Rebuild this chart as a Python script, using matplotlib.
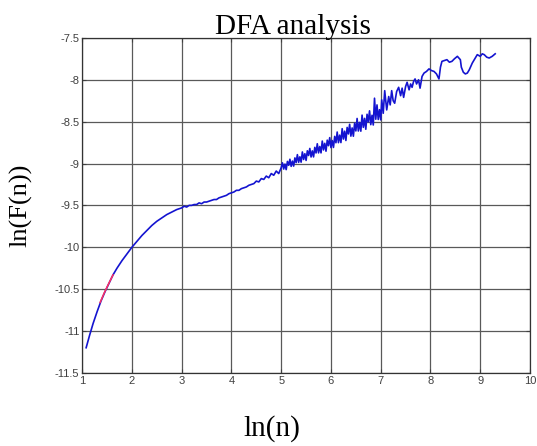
import numpy as np
import matplotlib
matplotlib.use('Agg')
import matplotlib.pyplot as plt

# %% values
# smooth start (small scales)
x_lo = [1.08, 1.15, 1.22, 1.30, 1.38, 1.46, 1.54, 1.62, 1.70, 1.80, 1.90,
        2.00, 2.10, 2.20, 2.30, 2.40, 2.50, 2.60, 2.70, 2.80, 2.90, 3.00]
y_lo = [-11.20, -11.05, -10.91, -10.77, -10.64, -10.53, -10.43, -10.33,
        -10.25, -10.16, -10.08, -10.00, -9.93, -9.86, -9.80, -9.74, -9.69,
        -9.65, -9.61, -9.58, -9.55, -9.53]

# middle, slightly ragged
x_mid = [3.05, 3.10, 3.15, 3.20, 3.25, 3.30, 3.35, 3.40, 3.45, 3.50, 3.55,
         3.60, 3.65, 3.70, 3.75, 3.80, 3.85, 3.90, 3.95, 4.00, 4.05, 4.10,
         4.15, 4.20, 4.25, 4.30, 4.35, 4.40, 4.45, 4.50, 4.55, 4.60, 4.65,
         4.70, 4.75, 4.80, 4.85, 4.90, 4.95, 5.00]
y_mid = [-9.51, -9.52, -9.50, -9.50, -9.49, -9.49, -9.47, -9.48, -9.46,
         -9.46, -9.45, -9.44, -9.43, -9.43, -9.41, -9.40, -9.39, -9.38,
         -9.36, -9.35, -9.34, -9.32, -9.32, -9.30, -9.29, -9.28, -9.26,
         -9.25, -9.24, -9.21, -9.22, -9.18, -9.19, -9.15, -9.17, -9.12,
         -9.14, -9.09, -9.12, -9.05]

# dense noisy band
x_band = [5.025, 5.05, 5.075, 5.10, 5.125, 5.15, 5.175, 5.20, 5.225, 5.25,
          5.275, 5.30, 5.325, 5.35, 5.375, 5.40, 5.425, 5.45, 5.475, 5.50,
          5.525, 5.55, 5.575, 5.60, 5.625, 5.65, 5.675, 5.70, 5.725, 5.75,
          5.775, 5.80, 5.825, 5.85, 5.875, 5.90, 5.925, 5.95, 5.975, 6.00,
          6.025, 6.05, 6.075, 6.10, 6.125, 6.15, 6.175, 6.20, 6.225, 6.25,
          6.275, 6.30, 6.325, 6.35, 6.375, 6.40, 6.425, 6.45, 6.475, 6.50,
          6.525, 6.55, 6.575, 6.60, 6.625, 6.65, 6.675, 6.70, 6.725, 6.75,
          6.775, 6.80, 6.825, 6.85, 6.875, 6.90, 6.925, 6.95, 6.975, 7.00]
y_band = [-8.992, -9.066, -9.007, -9.073, -8.975, -9.021, -8.949, -9.034,
          -8.971, -9.031, -8.933, -8.989, -8.894, -8.986, -8.920, -8.984,
          -8.862, -8.952, -8.883, -8.963, -8.848, -8.904, -8.820, -8.922,
          -8.849, -8.921, -8.807, -8.874, -8.764, -8.873, -8.797, -8.873,
          -8.732, -8.838, -8.759, -8.853, -8.721, -8.787, -8.691, -8.810,
          -8.726, -8.808, -8.676, -8.752, -8.624, -8.751, -8.661, -8.750,
          -8.584, -8.708, -8.614, -8.725, -8.569, -8.647, -8.532, -8.673,
          -8.575, -8.674, -8.519, -8.611, -8.462, -8.612, -8.509, -8.614,
          -8.422, -8.568, -8.461, -8.591, -8.412, -8.503, -8.371, -8.536,
          -8.424, -8.540, -8.220, -8.471, -8.300, -8.474, -8.357, -8.479]

# sparse tail (large scales)
x_hi = [7.02, 7.05, 7.08, 7.12, 7.16, 7.19, 7.22, 7.25, 7.28, 7.32, 7.36,
        7.40, 7.43, 7.46, 7.50, 7.53, 7.57, 7.60, 7.63, 7.66, 7.69, 7.72,
        7.76, 7.79, 7.83, 7.87, 7.92, 7.97, 8.02, 8.07, 8.12, 8.17, 8.20,
        8.23, 8.28, 8.33, 8.38, 8.43, 8.48, 8.54, 8.60, 8.62, 8.66, 8.70,
        8.74, 8.78, 8.84, 8.90, 8.94, 9.00, 9.04, 9.08, 9.13, 9.18, 9.24,
        9.30]
y_hi = [-8.24, -8.40, -8.13, -8.36, -8.20, -8.30, -8.13, -8.25, -8.28,
        -8.14, -8.09, -8.19, -8.10, -8.21, -8.08, -8.03, -8.12, -8.05,
        -8.09, -8.02, -7.99, -8.05, -8.00, -8.10, -7.96, -7.92, -7.90,
        -7.87, -7.89, -7.90, -7.93, -7.99, -7.85, -7.78, -7.77, -7.76,
        -7.79, -7.78, -7.75, -7.72, -7.76, -7.85, -7.91, -7.93, -7.92,
        -7.88, -7.80, -7.74, -7.70, -7.72, -7.69, -7.70, -7.73, -7.74,
        -7.72, -7.69]

# fitted short red piece
x_fit = [1.36, 1.44, 1.52, 1.62]
y_fit = [-10.66, -10.55, -10.45, -10.33]

xticks = [1, 2, 3, 4, 5, 6, 7, 8, 9, 10]
yticks = [-11.5, -11, -10.5, -10, -9.5, -9, -8.5, -8, -7.5]
ytick_labels = ['-11.5', '-11', '-10.5', '-10', '-9.5', '-9', '-8.5', '-8', '-7.5']

# %% plot
x = np.array(x_lo + x_mid + x_band + x_hi)
y = np.array(y_lo + y_mid + y_band + y_hi)

fig = plt.figure(figsize=(5.37, 4.46), dpi=100)
ax = fig.add_axes([0.153, 0.164, 0.834, 0.751])

ax.plot(x, y, color='#1414d0', lw=1.2, zorder=3)
ax.plot(x_fit, y_fit, color='#ff3060', lw=1.1, zorder=4)

ax.set_xlim(1, 10)
ax.set_ylim(-11.5, -7.5)
ax.set_xticks(xticks)
ax.set_yticks(yticks)
ax.set_yticklabels(ytick_labels)
ax.grid(True, color='0.35', lw=0.9, ls='-')
ax.set_axisbelow(True)
ax.tick_params(direction='in', length=3, width=0.8, top=True, right=True,
               labelsize=8, pad=2, colors='0.25')
for lab in ax.get_xticklabels() + ax.get_yticklabels():
    lab.set_family('Liberation Sans')
for s in ax.spines.values():
    s.set_color('0.2')
    s.set_linewidth(0.9)

ax.set_title('DFA analysis', family='Liberation Serif', fontsize=21,
             x=0.47, pad=3)
ax.set_xlabel('ln(n)', family='Liberation Serif', fontsize=21)
ax.set_ylabel('ln(F(n))', family='Liberation Serif', fontsize=19)
ax.xaxis.set_label_coords(0.424, -0.125)
ax.yaxis.set_label_coords(-0.11, 0.5)

fig.savefig('out.png', dpi=100)
